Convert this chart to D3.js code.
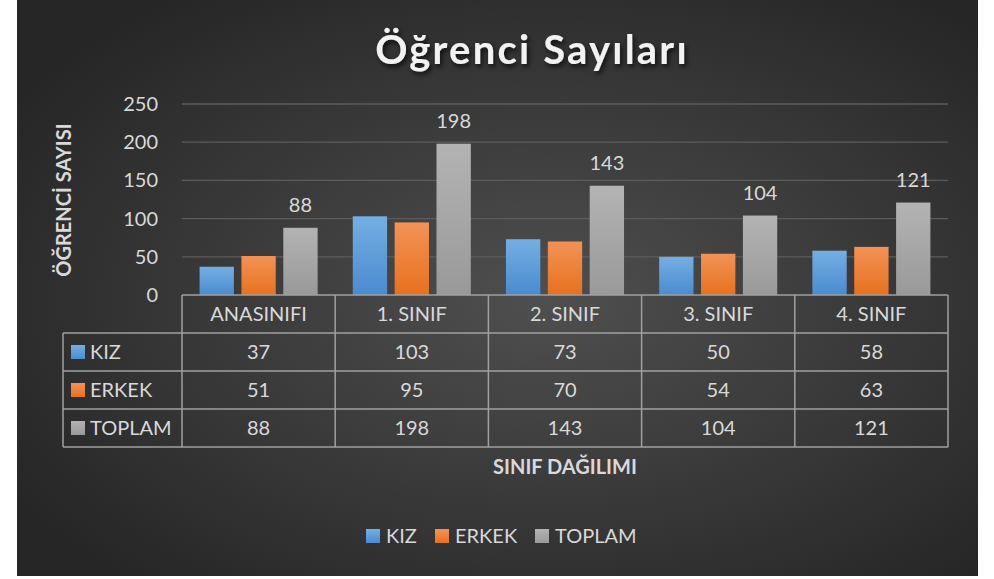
<!DOCTYPE html>
<html>
<head>
<meta charset="utf-8">
<script src="https://cdn.jsdelivr.net/npm/d3@7"></script>
<style>
  body { margin: 0; background: #fff; }
  text { font-family: Lato, "Open Sans", sans-serif; }
</style>
</head>
<body>
<div id="chart"></div>
<script>
// veriler
var categories = ["ANASINIFI", "1. SINIF", "2. SINIF", "3. SINIF", "4. SINIF"];
var seriesNames = ["KIZ", "ERKEK", "TOPLAM"];
var kiz = [37, 103, 73, 50, 58];
var erkek = [51, 95, 70, 54, 63];
var toplam = [88, 198, 143, 104, 121];
var yTicks = [0, 50, 100, 150, 200, 250];

var seriesValues = [kiz, erkek, toplam];
var colors = [
  ["#74aee3", "#4a8bd0"],
  ["#f29257", "#e8711d"],
  ["#b3b3b3", "#999999"]
];

var W = 994, H = 579;
var box = {x: 17, y: 0, w: 961, h: 576};
var plot = {left: 182, right: 948, top: 104, bottom: 295};
var rowH = 38;
var fs = "20px";

var svg = d3.select("#chart").append("svg")
  .attr("width", W).attr("height", H);

var defs = svg.append("defs");
var bg = defs.append("radialGradient").attr("id", "bg")
  .attr("cx", "55%").attr("cy", "52%").attr("r", "65%");
bg.append("stop").attr("offset", "0%").attr("stop-color", "#4f4f4f");
bg.append("stop").attr("offset", "100%").attr("stop-color", "#262626");

colors.forEach(function(c, i) {
  var g = defs.append("linearGradient").attr("id", "g" + i)
    .attr("x1", 0).attr("y1", 0).attr("x2", 0).attr("y2", 1);
  g.append("stop").attr("offset", "0%").attr("stop-color", c[0]);
  g.append("stop").attr("offset", "100%").attr("stop-color", c[1]);
});

var shadow = defs.append("filter").attr("id", "shadow")
  .attr("x", "-10%").attr("y", "-20%").attr("width", "120%").attr("height", "150%");
shadow.append("feDropShadow").attr("dx", 2).attr("dy", 3).attr("stdDeviation", 2.5)
  .attr("flood-color", "#000").attr("flood-opacity", 0.7);

svg.append("rect")
  .attr("x", box.x).attr("y", box.y).attr("width", box.w).attr("height", box.h)
  .attr("fill", "url(#bg)");

// başlık
svg.append("text")
  .attr("x", 532).attr("y", 64)
  .attr("text-anchor", "middle")
  .style("font-size", "40px").style("font-weight", "bold")
  .style("letter-spacing", "2.2px")
  .attr("fill", "#f2f2f2")
  .attr("filter", "url(#shadow)")
  .text("Öğrenci Sayıları");

var x = d3.scaleBand().domain(categories).range([plot.left, plot.right]);
var y = d3.scaleLinear().domain([0, 250]).range([plot.bottom, plot.top]);
var xs = d3.scaleBand().domain(seriesNames).range([0, x.bandwidth()])
  .paddingInner(0.18).paddingOuter(0.42);

// ızgara
svg.append("g").selectAll("line").data(yTicks.slice(1)).enter().append("line")
  .attr("x1", plot.left).attr("x2", plot.right)
  .attr("y1", function(d) { return y(d); }).attr("y2", function(d) { return y(d); })
  .attr("stroke", "#5c5c5c").attr("stroke-width", 1.3);

var yAxis = svg.append("g")
  .attr("transform", "translate(" + (plot.left - 24) + ",0)")
  .call(d3.axisLeft(y).tickValues(yTicks).tickSize(0).tickPadding(0));
yAxis.select(".domain").remove();
yAxis.selectAll("text")
  .style("font-size", fs).style("font-family", "Lato, sans-serif")
  .attr("fill", "#d9d9d9");

// çubuklar
seriesValues.forEach(function(vals, si) {
  svg.append("g").selectAll("rect").data(vals).enter().append("rect")
    .attr("x", function(d, i) { return x(categories[i]) + xs(seriesNames[si]); })
    .attr("y", function(d) { return y(d); })
    .attr("width", xs.bandwidth())
    .attr("height", function(d) { return y(0) - y(d); })
    .attr("fill", "url(#g" + si + ")");
});

// toplam etiketleri
svg.append("g").selectAll("text").data(toplam).enter().append("text")
  .attr("x", function(d, i) { return x(categories[i]) + xs("TOPLAM") + xs.bandwidth() / 2; })
  .attr("y", function(d) { return y(d) - 16; })
  .attr("text-anchor", "middle")
  .style("font-size", fs)
  .attr("fill", "#d9d9d9")
  .text(function(d) { return d; });

// veri tablosu
var tableLeft = 63;
var tbl = svg.append("g").attr("fill", "none").attr("stroke", "#a0a0a0").attr("stroke-width", 1.5);
var tBottom = plot.bottom + rowH * 4;
tbl.append("line").attr("x1", plot.left).attr("x2", plot.right).attr("y1", plot.bottom).attr("y2", plot.bottom);
for (var r = 1; r <= 4; r++) {
  tbl.append("line").attr("x1", tableLeft).attr("x2", plot.right)
    .attr("y1", plot.bottom + rowH * r).attr("y2", plot.bottom + rowH * r);
}
tbl.append("line").attr("x1", tableLeft).attr("x2", tableLeft)
  .attr("y1", plot.bottom + rowH).attr("y2", tBottom);
categories.concat(["_end"]).forEach(function(c, i) {
  var xx = i < categories.length ? x(c) : plot.right;
  tbl.append("line").attr("x1", xx).attr("x2", xx).attr("y1", plot.bottom).attr("y2", tBottom);
});

svg.append("g").selectAll("text").data(categories).enter().append("text")
  .attr("x", function(d) { return x(d) + x.bandwidth() / 2; })
  .attr("y", plot.bottom + rowH / 2 + 7)
  .attr("text-anchor", "middle")
  .style("font-size", fs).attr("fill", "#d9d9d9")
  .text(function(d) { return d; });

seriesValues.forEach(function(vals, si) {
  var cy = plot.bottom + rowH * (si + 1) + rowH / 2;
  svg.append("rect").attr("x", 71).attr("y", cy - 7).attr("width", 14).attr("height", 14)
    .attr("fill", "url(#g" + si + ")");
  svg.append("text").attr("x", 90).attr("y", cy + 7)
    .style("font-size", fs).attr("fill", "#d9d9d9")
    .text(seriesNames[si]);
  svg.append("g").selectAll("text").data(vals).enter().append("text")
    .attr("x", function(d, i) { return x(categories[i]) + x.bandwidth() / 2; })
    .attr("y", cy + 7)
    .attr("text-anchor", "middle")
    .style("font-size", fs).attr("fill", "#d9d9d9")
    .text(function(d) { return d; });
});

// eksen başlıkları
svg.append("text")
  .attr("transform", "translate(71,200) rotate(-90)")
  .attr("text-anchor", "middle")
  .style("font-size", "20px").style("font-weight", "bold")
  .attr("fill", "#d9d9d9")
  .text("ÖĞRENCİ SAYISI");

svg.append("text")
  .attr("x", (plot.left + plot.right) / 2).attr("y", 474)
  .attr("text-anchor", "middle")
  .style("font-size", "20px").style("font-weight", "bold")
  .attr("fill", "#d9d9d9")
  .text("SINIF DAĞILIMI");

// lejant
var legendX = [366, 435, 535];
seriesNames.forEach(function(n, i) {
  svg.append("rect").attr("x", legendX[i]).attr("y", 529).attr("width", 14).attr("height", 14)
    .attr("fill", "url(#g" + i + ")");
  svg.append("text").attr("x", legendX[i] + 20).attr("y", 543)
    .style("font-size", fs).attr("fill", "#d9d9d9")
    .text(n);
});
</script>
</body>
</html>
